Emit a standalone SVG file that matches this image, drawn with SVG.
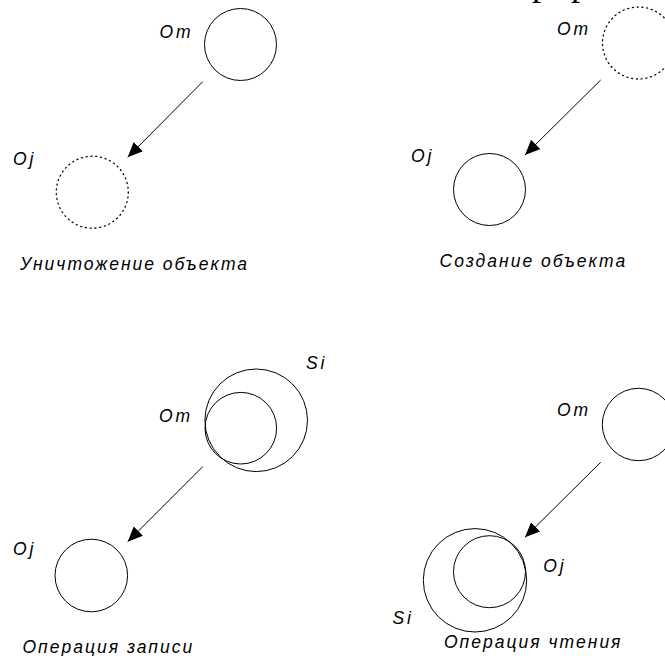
<svg xmlns="http://www.w3.org/2000/svg" width="665" height="656" viewBox="0 0 665 656">
  <style>
    .bg { fill: #ffffff; }
    .obj { fill: none; stroke: #000; stroke-width: 1; }
    .gone { fill: none; stroke: #000; stroke-width: 1.3; stroke-dasharray: 1 3.8; stroke-linecap: round; }
    .flow { stroke: #000; stroke-width: 1; fill: none; }
    .lbl { font-family: "Liberation Sans", Arial, sans-serif; font-style: italic; font-size: 17.5px; letter-spacing: 2.8px; fill: #000; }
    .cap { font-family: "Liberation Sans", Arial, sans-serif; font-style: italic; font-size: 17.5px; letter-spacing: 2px; fill: #000; }
    .head { font-family: "Liberation Serif", "Times New Roman", serif; font-size: 36px; fill: #000; }
  </style>
  <defs>
    <marker id="arrow" markerUnits="userSpaceOnUse" markerWidth="16" markerHeight="14" refX="15" refY="6.5" orient="auto">
      <path d="M0,0 L15,6.5 L0,13 Z" fill="#000"/>
    </marker>
  </defs>

  <rect class="bg" x="0" y="0" width="665" height="656"/>

  <!-- descenders of the heading line above, cut by the top edge -->
  <g id="heading-fragment">
    <text class="head" x="532" y="-4.8">р</text>
    <text class="head" x="571" y="-4.8">р</text>
  </g>

  <!-- flows between objects -->
  <g id="connectors">
    <line class="flow" x1="202.7" y1="81.7" x2="127.7" y2="157.3" marker-end="url(#arrow)"/>
    <line class="flow" x1="600.7" y1="80" x2="525" y2="155" marker-end="url(#arrow)"/>
    <line class="flow" x1="202.7" y1="466.7" x2="127.7" y2="541.7" marker-end="url(#arrow)"/>
    <line class="flow" x1="600.7" y1="462.3" x2="525" y2="537.3" marker-end="url(#arrow)"/>
  </g>

  <!-- object destruction -->
  <g id="destroy-om">
    <circle class="obj" cx="240.5" cy="44.5" r="36"/>
    <text class="lbl" x="159.5" y="37.5">Om</text>
  </g>
  <g id="destroy-oj">
    <circle class="gone" cx="92.3" cy="192.2" r="36"/>
    <text class="lbl" x="13" y="165">Oj</text>
  </g>
  <text id="destroy-caption" class="cap" x="20" y="269.5">Уничтожение объекта</text>

  <!-- object creation -->
  <g id="create-om">
    <circle class="gone" cx="638.5" cy="43" r="36"/>
    <text class="lbl" x="557" y="35">Om</text>
  </g>
  <g id="create-oj">
    <circle class="obj" cx="489.5" cy="189.5" r="36"/>
    <text class="lbl" x="411" y="161.7">Oj</text>
  </g>
  <text id="create-caption" class="cap" x="439.5" y="267">Создание объекта</text>

  <!-- write operation -->
  <g id="write-si">
    <circle class="obj" cx="256.2" cy="420.3" r="51.3"/>
    <text class="lbl" x="306" y="369.3">Si</text>
  </g>
  <g id="write-om">
    <circle class="obj" cx="240.8" cy="428.2" r="35.8"/>
    <text class="lbl" x="159" y="421.7">Om</text>
  </g>
  <g id="write-oj">
    <circle class="obj" cx="91.3" cy="575.5" r="36.3"/>
    <text class="lbl" x="13" y="555">Oj</text>
  </g>
  <text id="write-caption" class="cap" x="22.5" y="653">Операция записи</text>

  <!-- read operation -->
  <g id="read-om">
    <circle class="obj" cx="638.5" cy="424.5" r="36.2"/>
    <text class="lbl" x="557" y="416">Om</text>
  </g>
  <g id="read-si">
    <circle class="obj" cx="475" cy="580.3" r="51.7"/>
    <text class="lbl" x="392.5" y="623.5">Si</text>
  </g>
  <g id="read-oj">
    <circle class="obj" cx="489.5" cy="571.7" r="36"/>
    <text class="lbl" x="543.3" y="572.3">Oj</text>
  </g>
  <text id="read-caption" class="cap" x="444" y="647.5">Операция чтения</text>
</svg>
